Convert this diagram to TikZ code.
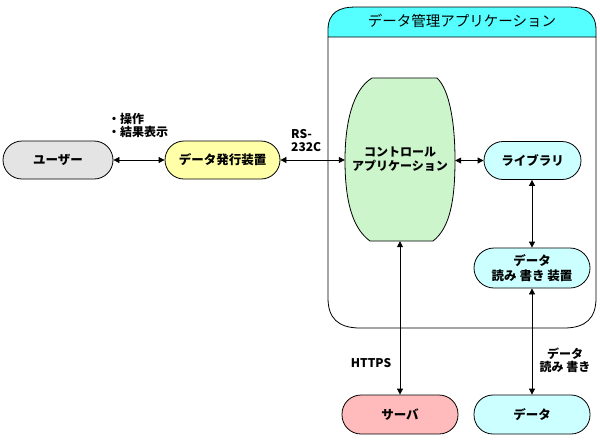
\documentclass[tikz,border=0pt]{standalone}
\usepackage{fontspec}
\setmainfont{Noto Sans CJK JP}
\usetikzlibrary{arrows.meta}
\definecolor{cgray}{HTML}{E4E4E4}
\definecolor{cyellow}{HTML}{FFFFA8}
\definecolor{cgreen}{HTML}{CCF5CC}
\definecolor{ccyan}{HTML}{CCFFFF}
\definecolor{chead}{HTML}{55FFFF}
\definecolor{cpink}{HTML}{FFBBBB}
\tikzset{
  pill/.style={draw=black, line width=0.8pt, rounded corners=19pt, minimum height=38pt, inner sep=0pt, font=\fontsize{12.5}{14}\selectfont\bfseries, align=center},
  lbl/.style={font=\fontsize{12}{13}\selectfont\bfseries, align=left, inner sep=0pt},
  conn/.style={line width=0.8pt, {Triangle[length=6pt,width=6pt]}-{Triangle[length=6pt,width=6pt]}}
}
\begin{document}
\begin{tikzpicture}[x=1pt,y=-1pt]
\useasboundingbox (0,0) rectangle (600,440);
\fill[white] (0,0) rectangle (600,440);
% container
\draw[line width=0.8pt] (328,37) -- (328,298) .. controls (328,318) and (338,328) .. (360,328) -- (564,328) .. controls (586,328) and (596,318) .. (596,298) -- (596,37);
\draw[line width=0.8pt, fill=chead] (328,37) -- (328,30) .. controls (328,12) and (340,7) .. (355,7) -- (569,7) .. controls (584,7) and (596,12) .. (596,30) -- (596,37) -- cycle;
\node[font=\fontsize{14.5}{16}\selectfont, inner sep=0pt] (title) at (462,21) {データ管理アプリケーション};
% control app shape
\draw[line width=0.8pt, fill=cgreen] (372,78) -- (437,78) .. controls (450,90) and (455,125) .. (455,160) .. controls (455,200) and (450,228) .. (433,241) -- (370,241) .. controls (352,228) and (345,200) .. (345,160) .. controls (345,125) and (352,90) .. (372,78) -- cycle;
\node[minimum width=110pt, minimum height=163pt, inner sep=0pt, align=center, font=\fontsize{12}{14}\selectfont\bfseries] (ctrl) at (400,159.5) {コントロール\\アプリケーション};
% nodes
\node[pill, fill=cgray, minimum width=110pt] (user) at (58,160) {ユーザー};
\node[pill, fill=cyellow, minimum width=115pt] (issue) at (222.5,160) {データ発行装置};
\node[pill, fill=ccyan, minimum width=97pt] (lib) at (532.5,160.5) {ライブラリ};
\node[pill, fill=ccyan, minimum width=116pt, minimum height=40pt, rounded corners=20pt, font=\fontsize{12.5}{15}\selectfont\bfseries] (rw) at (532,268) {データ\\読み 書き 装置};
\node[pill, fill=cpink, minimum width=116pt, minimum height=39pt] (server) at (400,414.5) {サーバ};
\node[pill, fill=ccyan, minimum width=116pt, minimum height=39pt] (data) at (532,414.5) {データ};
% connectors
\draw[conn] (user) -- (issue);
\draw[conn] (issue) -- (ctrl.west |- issue.east);
\draw[conn] (ctrl.east |- lib.west) -- (lib);
\draw[conn] (lib.south -| rw.north) -- (rw.north);
\draw[conn] (ctrl.south) -- (server.north);
\draw[conn] (rw.south) -- (data.north);
% labels
\node[lbl, anchor=west] (ops) at (108,125) {・操作\\・結果表示};
\node[lbl, anchor=west] (rs) at (291,141) {RS-\\232C};
\node[lbl, anchor=center] (https) at (371,363) {HTTPS};
\node[lbl, align=center] (rwl) at (565,360) {データ\\読み 書き};
\end{tikzpicture}
\end{document}
